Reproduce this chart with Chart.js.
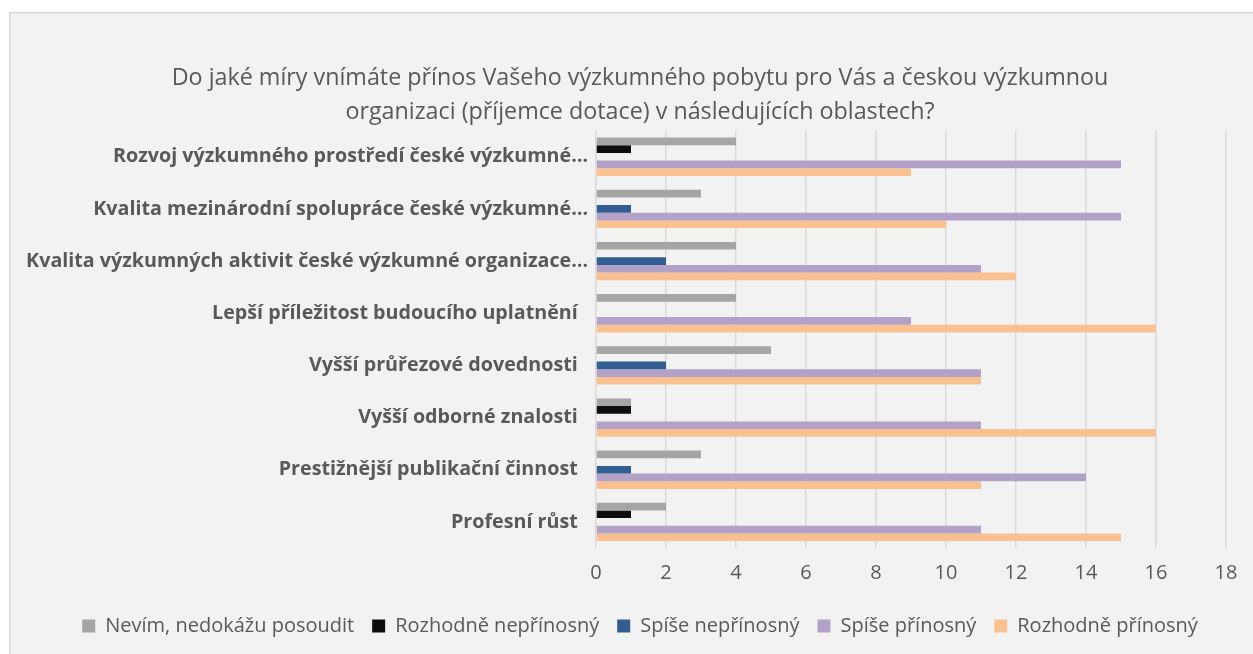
<!DOCTYPE html>
<html>
<head>
<meta charset="utf-8">
<script src="https://cdn.jsdelivr.net/npm/chart.js@4.4.0/dist/chart.umd.min.js"></script>
<style>
  html, body { margin: 0; padding: 0; background: #ffffff; }
  #wrap { width: 1253px; height: 654px; position: relative; }
</style>
</head>
<body>
<div id="wrap"><canvas id="c" width="1253" height="654"></canvas></div>
<script>
const titleLines = [
  "Do jaké míry vnímáte přínos Vašeho výzkumného pobytu pro Vás a českou výzkumnou",
  "organizaci (příjemce dotace) v následujících oblastech?"
];
const categories = [
  "Rozvoj výzkumného prostředí české výzkumné…",
  "Kvalita mezinárodní spolupráce české výzkumné…",
  "Kvalita výzkumných aktivit české výzkumné organizace…",
  "Lepší příležitost budoucího uplatnění  ",
  "Vyšší průřezové dovednosti  ",
  "Vyšší odborné znalosti  ",
  "Prestižnější publikační činnost  ",
  "Profesní růst  "
];
const seriesNames = [
  "Nevím, nedokážu posoudit",
  "Rozhodně nepřínosný",
  "Spíše nepřínosný",
  "Spíše přínosný",
  "Rozhodně přínosný"
];
const nevim      = [4, 3, 4, 4, 5, 1, 3, 2];
const rozhodneNe = [1, 0, 0, 0, 0, 1, 0, 1];
const spiseNe    = [0, 1, 2, 0, 2, 0, 1, 0];
const spisePr    = [15, 15, 11, 9, 11, 11, 14, 11];
const rozhodnePr = [9, 10, 12, 16, 11, 16, 11, 15];
const seriesColors = ["#a5a5a5", "#0d0d0d", "#335e91", "#b3a2c7", "#fac090"];
const xTicks = [0, 2, 4, 6, 8, 10, 12, 14, 16, 18];

const seriesValues = [nevim, rozhodneNe, spiseNe, spisePr, rozhodnePr];
const TEXT = "#595959";
const FONT = "'Open Sans', 'DejaVu Sans', sans-serif";

const bgPlugin = {
  id: 'bgbox',
  afterLayout(chart) {
    // let the long category labels extend to the left edge without clipping
    const y = chart.scales.y;
    if (y) { y.left = 0; }
  },
  beforeDraw(chart) {
    const ctx = chart.ctx;
    ctx.save();
    ctx.fillStyle = '#ffffff';
    ctx.fillRect(0, 0, chart.width, chart.height);
    ctx.fillStyle = '#f2f2f2';
    ctx.fillRect(9, 12, chart.width, chart.height);
    ctx.strokeStyle = '#d9d9d9';
    ctx.lineWidth = 1.5;
    ctx.beginPath();
    ctx.moveTo(9.75, chart.height + 5);
    ctx.lineTo(9.75, 12.75);
    ctx.lineTo(chart.width + 5, 12.75);
    ctx.stroke();
    ctx.restore();
  }
};

new Chart(document.getElementById('c'), {
  type: 'bar',
  data: {
    labels: categories,
    datasets: seriesNames.map((name, i) => ({
      label: name,
      data: seriesValues[i],
      backgroundColor: seriesColors[i],
      borderWidth: 0,
      categoryPercentage: 0.735,
      barPercentage: 1.0
    }))
  },
  options: {
    indexAxis: 'y',
    responsive: false,
    animation: false,
    devicePixelRatio: 1,
    layout: { padding: { left: 54, right: 27, top: 0, bottom: 8 } },
    plugins: {
      title: {
        display: true,
        text: titleLines,
        color: TEXT,
        font: { family: FONT, size: 23.3, weight: 'normal', lineHeight: 1.43 },
        padding: { top: 62, bottom: 2 }
      },
      legend: {
        position: 'bottom',
        labels: {
          color: TEXT,
          font: { family: FONT, size: 20 },
          boxWidth: 13,
          boxHeight: 13,
          padding: 18
        }
      },
      tooltip: { enabled: false }
    },
    scales: {
      x: {
        min: 0,
        max: 18,
        afterBuildTicks(scale) { scale.ticks = xTicks.map(v => ({ value: v })); },
        grid: { color: '#d9d9d9', lineWidth: 1.5, drawTicks: false },
        border: { display: false },
        ticks: { color: TEXT, font: { family: FONT, size: 20 }, padding: 13 }
      },
      y: {
        afterFit(scale) { scale.width = 596 - 54; },
        grid: { display: false, drawTicks: false },
        border: { display: false },
        ticks: { color: TEXT, font: { family: FONT, size: 19.7, weight: 'bold' }, padding: 8, autoSkip: false }
      }
    }
  },
  plugins: [bgPlugin]
});
</script>
</body>
</html>
